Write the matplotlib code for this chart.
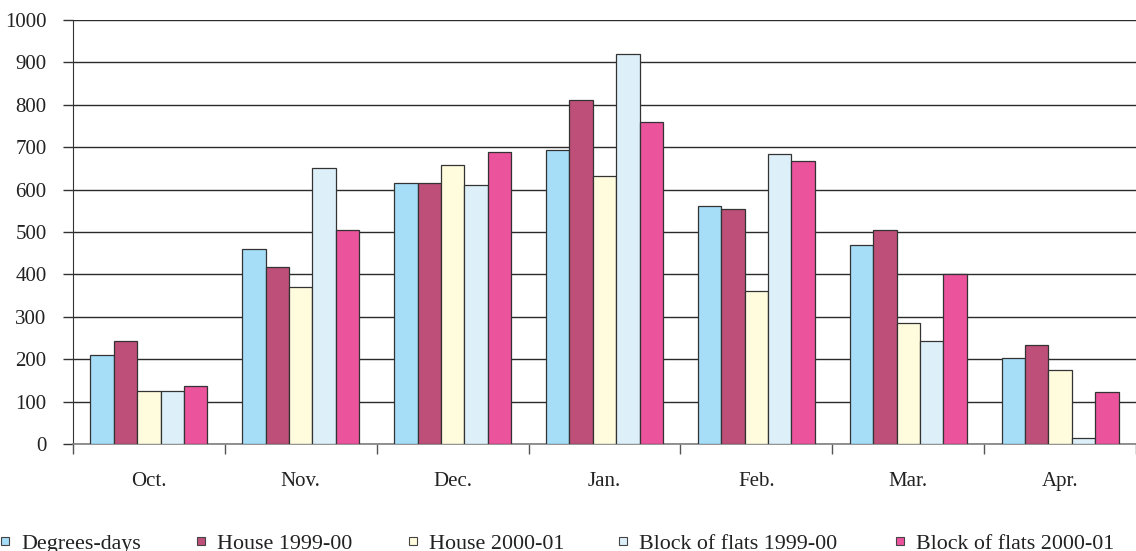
import matplotlib.pyplot as plt
import numpy as np
from matplotlib.patches import Rectangle

months = ["Oct.", "Nov.", "Dec.", "Jan.", "Feb.", "Mar.", "Apr."]
series_names = ["Degrees-days", "House 1999-00", "House 2000-01",
                "Block of flats 1999-00", "Block of flats 2000-01"]
degrees_days = [210, 460, 615, 693, 561, 469, 204]
house_99 = [243, 417, 615, 811, 554, 505, 234]
house_00 = [125, 370, 658, 632, 361, 285, 174]
flats_99 = [125, 651, 611, 920, 684, 243, 13]
flats_00 = [137, 505, 689, 759, 667, 401, 122]
colors = ["#A6DDF7", "#BE4F78", "#FFFCDD", "#DDF0FA", "#EC539D"]

plt.rcParams['font.family'] = ['Liberation Serif', 'DejaVu Serif']

fig = plt.figure(figsize=(11.36, 5.51), dpi=100)
ax = fig.add_axes([73 / 1136, 107 / 551, 1063 / 1136, 424 / 551])

x = np.arange(len(months))
width = 0.154
all_series = [degrees_days, house_99, house_00, flats_99, flats_00]
for i, (vals, col, name) in enumerate(zip(all_series, colors, series_names)):
    ax.bar(x + (i - 2) * width, vals, width, color=col, edgecolor="#333333",
           linewidth=0.9, label=name, zorder=3)

ax.set_ylim(0, 1000)
ax.set_xlim(-0.5, -0.5 + 1063 / 153)
ax.set_yticks(range(0, 1001, 100))
ax.yaxis.grid(True, color="#2a2a2a", linewidth=1.0, zorder=0)
ax.set_axisbelow(True)

# category labels centred, tick marks on the category boundaries
ax.set_xticks(x)
ax.set_xticklabels(months, fontsize=15, color="#222222")
ax.set_xticks(np.arange(-0.5, len(months), 1), minor=True)
ax.tick_params(axis="x", which="major", length=0, pad=20)
ax.tick_params(axis="x", which="minor", length=7, width=1, color="#555555",
               direction="out")
ax.tick_params(axis="y", length=7, width=1, color="#333333", pad=12,
               labelsize=15, labelcolor="#222222")

for s in ["top", "right"]:
    ax.spines[s].set_visible(False)
ax.spines["left"].set_color("#333333")
ax.spines["bottom"].set_color("#808080")
ax.spines["bottom"].set_linewidth(1.2)

# legend row along the bottom edge
marker_x = [5, 201, 413, 623, 900]
for mx, col, name in zip(marker_x, colors, series_names):
    fig.add_artist(Rectangle(((mx - 4) / 1136, (551 - 545) / 551), 8 / 1136, 8 / 551,
                             transform=fig.transFigure, facecolor=col,
                             edgecolor="#444444", linewidth=0.8))
    fig.text((mx + 16) / 1136, (551 - 549) / 551, name, fontsize=15.8,
             color="#222222", ha="left", va="baseline")

fig.savefig("out.png", dpi=100)
